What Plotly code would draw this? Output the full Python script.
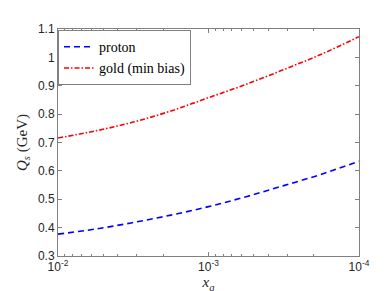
import plotly.graph_objects as go

x_g = [1e-2, 10**-2.25, 10**-2.5, 10**-2.75, 1e-3, 10**-3.25, 10**-3.5, 10**-3.75, 1e-4]
proton = [0.377, 0.395, 0.418, 0.444, 0.474, 0.509, 0.548, 0.588, 0.634]
gold = [0.716, 0.741, 0.772, 0.811, 0.858, 0.905, 0.957, 1.011, 1.073]

x_tickvals = [1e-2, 1e-3, 1e-4]
x_ticktext = ["10<sup>-2</sup>", "10<sup>-3</sup>", "10<sup>-4</sup>"]
y_tickvals = [0.3, 0.4, 0.5, 0.6, 0.7, 0.8, 0.9, 1.0, 1.1]
y_ticktext = ["0.3", "0.4", "0.5", "0.6", "0.7", "0.8", "0.9", "1", "1.1"]
minor_vals = [m * 10**e for e in (-4, -3) for m in range(2, 10)]

serif = "Liberation Serif"

fig = go.Figure()
fig.add_trace(go.Scatter(x=x_g, y=proton, mode="lines", name="proton",
                         line=dict(color="#0000FF", width=1.6, dash="6px,4px", shape="spline")))
fig.add_trace(go.Scatter(x=x_g, y=gold, mode="lines", name="gold (min bias)",
                         line=dict(color="#FF0000", width=1.6, dash="5px,2px,1.5px,2px", shape="spline")))

axcol = "#808080"
fig.update_layout(
    width=388, height=291,
    margin=dict(l=50, r=37, t=21, b=38),
    paper_bgcolor="white", plot_bgcolor="white",
    font=dict(family="Liberation Sans", size=12, color="#262626"),
    showlegend=True,
    legend=dict(x=0.0, y=0.995, xanchor="left", yanchor="top",
                bgcolor="white", bordercolor=axcol, borderwidth=1,
                font=dict(family=serif, size=14, color="#000000"),
                tracegroupgap=0, itemwidth=30),
    xaxis=dict(type="log", range=[-2, -4], showgrid=False, zeroline=False,
               showline=True, linecolor=axcol, linewidth=1, mirror="ticks",
               ticks="inside", ticklen=4, tickcolor=axcol,
               tickmode="array", tickvals=x_tickvals, ticktext=x_ticktext,
               tickfont=dict(family="Liberation Sans", size=12, color="#262626"),
               minor=dict(ticks="inside", ticklen=2, tickcolor=axcol,
                          tickmode="array", tickvals=minor_vals),
               title=dict(text="<i>x</i><sub><i>g</i></sub>", standoff=2,
                          font=dict(family=serif, size=15, color="#262626"))),
    yaxis=dict(range=[0.3, 1.1], showgrid=False, zeroline=False,
               showline=True, linecolor=axcol, linewidth=1, mirror="ticks",
               ticks="inside", ticklen=4, tickcolor=axcol,
               tickmode="array", tickvals=y_tickvals, ticktext=y_ticktext,
               tickfont=dict(family="Liberation Sans", size=12, color="#262626"),
               title=dict(text="<i>Q</i><sub><i>s</i></sub> (GeV)", standoff=6,
                          font=dict(family=serif, size=15, color="#262626"))),
)

fig.write_html("out.html")
